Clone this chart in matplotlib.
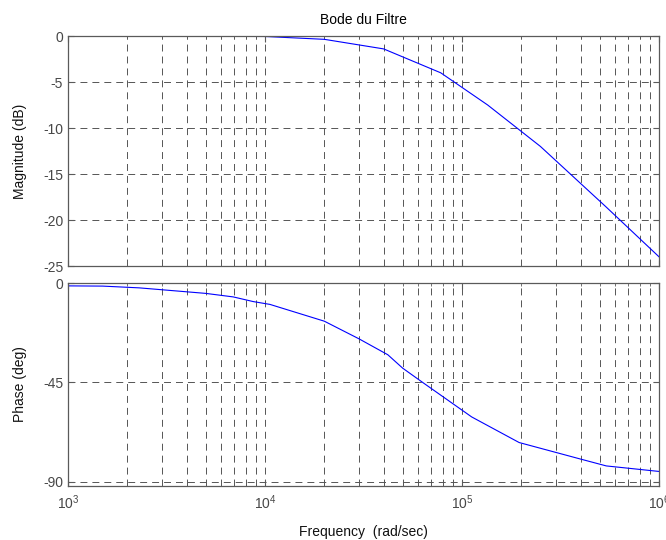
import matplotlib
matplotlib.use("Agg")
import matplotlib.pyplot as plt
from matplotlib.ticker import LogLocator, NullFormatter, FixedLocator

plt.rcParams["font.family"] = ["Liberation Sans", "DejaVu Sans"]
plt.rcParams["font.size"] = 10
plt.rcParams["axes.unicode_minus"] = False
plt.rcParams["mathtext.fontset"] = "custom"
plt.rcParams["mathtext.rm"] = "Liberation Sans"
plt.rcParams["lines.scale_dashes"] = False

freq_mag = [1e3, 1e4, 2e4, 4e4, 7.8e4, 1.35e5, 2.5e5, 5.4e5, 1e6]
mag_db = [0.0, -0.05, -0.36, -1.4, -4.0, -7.5, -12.0, -18.6, -24.0]

freq_phase = [1e3, 1.5e3, 2.3e3, 5e3, 6.9e3, 8.7e3, 1.06e4, 2e4, 3e4, 4.2e4,
              5e4, 6.3e4, 1.12e5, 1.95e5, 4e5, 5.4e5, 1e6]
phase_deg = [-1.3, -1.4, -2.2, -4.7, -6.3, -8.4, -9.7, -17.3, -25.3, -32.5,
             -38.6, -45.0, -60.7, -72.3, -79.8, -82.9, -85.4]

mag_ticks = [0, -5, -10, -15, -20, -25]
phase_ticks = [0, -45, -90]

grid_gray = "#555555"
frame_gray = "#5a5a5a"
text_gray = "#474747"

fig = plt.figure(figsize=(6.66, 5.4), dpi=100)
ax_mag = fig.add_axes([0.1021, 0.5074, 0.8874, 0.4259])
ax_ph = fig.add_axes([0.1021, 0.1, 0.8874, 0.3759])


def style_axes(ax):
    ax.set_xscale("log")
    ax.set_xlim(1e3, 1e6)
    ax.xaxis.set_major_locator(LogLocator(base=10, numticks=10))
    ax.xaxis.set_minor_locator(LogLocator(base=10, subs=range(2, 10), numticks=20))
    ax.xaxis.set_minor_formatter(NullFormatter())
    ax.grid(True, which="both", axis="x", color=grid_gray, linewidth=0.7,
            dashes=(5, 3.6))
    ax.grid(True, which="major", axis="y", color=grid_gray, linewidth=0.7,
            dashes=(5, 3.6))
    ax.tick_params(which="both", direction="in", top=True, right=True,
                   colors=frame_gray, labelcolor=text_gray, labelsize=10)
    ax.tick_params(which="major", length=4)
    ax.tick_params(which="minor", length=2)
    for s in ax.spines.values():
        s.set_color(frame_gray)
        s.set_linewidth(0.9)
    ax.set_axisbelow(True)


ax_mag.plot(freq_mag, mag_db, color="#0000ff", linewidth=0.8)
style_axes(ax_mag)
ax_mag.set_ylim(-25, 0)
ax_mag.yaxis.set_major_locator(FixedLocator(mag_ticks))
ax_mag.set_xticklabels([])
ax_mag.set_ylabel("Magnitude (dB)", color="#111111")
ax_mag.yaxis.set_label_coords(-0.069, 0.5)
ax_mag.set_title("Bode du Filtre", fontsize=10, pad=9)

ax_ph.plot(freq_phase, phase_deg, color="#0000ff", linewidth=0.8)
style_axes(ax_ph)
ax_ph.set_ylim(-92, 0)
ax_ph.yaxis.set_major_locator(FixedLocator(phase_ticks))
ax_ph.set_ylabel("Phase (deg)", color="#111111")
ax_ph.yaxis.set_label_coords(-0.069, 0.5)
ax_ph.set_xlabel("Frequency  (rad/sec)", color="#111111", labelpad=10)
ax_ph.tick_params(axis="x", which="major", pad=5)

fig.savefig("out.png", dpi=100)
